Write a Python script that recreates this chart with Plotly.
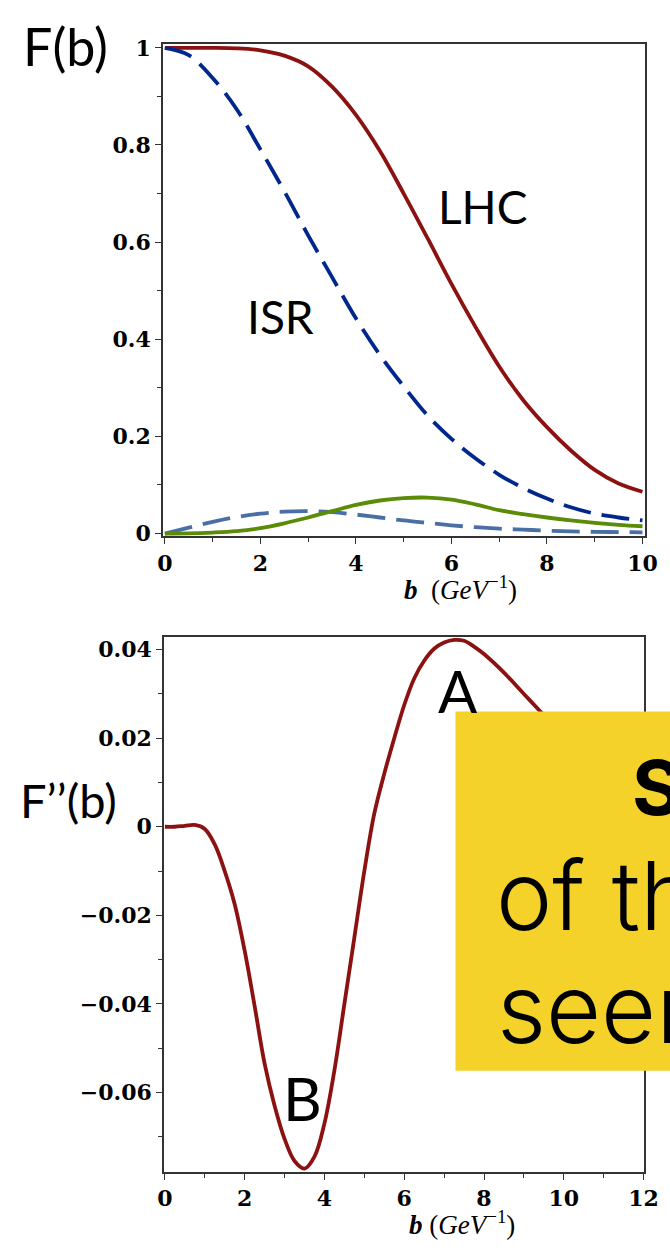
import plotly.graph_objects as go

# ---- F(b) profiles (upper panel), sampled every 0.5 in b ----
b_top = [0, 0.5, 1.0, 1.5, 2.0, 2.5, 3.0, 3.5, 4.0, 4.5, 5.0, 5.5, 6.0, 6.5, 7.0, 7.5, 8.0, 8.5, 9.0, 9.5, 10.0]
lhc_F = [1.000, 1.000, 1.000, 0.999, 0.995, 0.984, 0.962, 0.920, 0.862, 0.788, 0.700, 0.608, 0.514,
         0.426, 0.344, 0.275, 0.219, 0.171, 0.131, 0.103, 0.086]
isr_F = [1.000, 0.985, 0.938, 0.874, 0.791, 0.705, 0.614, 0.528, 0.443, 0.368, 0.303, 0.243, 0.195,
         0.155, 0.121, 0.094, 0.072, 0.054, 0.041, 0.033, 0.027]
green_F = [0.0, 0.0003, 0.002, 0.005, 0.011, 0.021, 0.033, 0.046, 0.059, 0.068, 0.073, 0.074, 0.070,
           0.060, 0.048, 0.040, 0.033, 0.027, 0.022, 0.018, 0.015]
steel_F = [0.0, 0.012, 0.024, 0.034, 0.041, 0.045, 0.046, 0.044, 0.039, 0.033, 0.027, 0.022, 0.017,
           0.013, 0.010, 0.008, 0.006, 0.0045, 0.0035, 0.003, 0.0025]

# ---- F''(b) (lower panel) ----
b_low = [0, 0.25, 0.5, 0.75, 1.0, 1.25, 1.5, 1.75, 2.0, 2.25, 2.5, 2.75, 3.0, 3.25, 3.5, 3.75, 4.0,
         4.25, 4.5, 4.75, 5.0, 5.25, 5.5, 5.75, 6.0, 6.25, 6.5, 6.75, 7.0, 7.25, 7.5, 7.75, 8.0,
         8.5, 9.0, 9.5, 10.0, 11.0, 12.0]
d2_F = [0.0, 0.0, 0.0002, 0.0004, -0.0005, -0.004, -0.0100, -0.0175, -0.0280, -0.0405, -0.0535,
        -0.0630, -0.0705, -0.0755, -0.0772, -0.0745, -0.0670, -0.0550, -0.0400, -0.0250, -0.0100,
        0.0030, 0.0120, 0.0200, 0.0275, 0.0335, 0.0375, 0.0402, 0.0416, 0.0422, 0.0420, 0.0407,
        0.0390, 0.0348, 0.0300, 0.0252, 0.0205, 0.0130, 0.0080]

W, H = 670, 1250


def px(x):
    return x / W


def py(y):
    return 1 - y / H


RED = "#8c1212"
NAVY = "#00288c"
GREEN = "#5a8c08"
STEEL = "#4a6fa5"
LW = 3.8
DASH = "28px,11px"

fig = go.Figure()
fig.add_trace(go.Scatter(x=b_top, y=lhc_F, mode="lines", line=dict(color=RED, width=LW, shape="spline"),
                         xaxis="x", yaxis="y"))
fig.add_trace(go.Scatter(x=b_top, y=isr_F, mode="lines",
                         line=dict(color=NAVY, width=LW, shape="spline", dash=DASH),
                         xaxis="x", yaxis="y"))
fig.add_trace(go.Scatter(x=b_top, y=steel_F, mode="lines",
                         line=dict(color=STEEL, width=LW, shape="spline", dash=DASH),
                         xaxis="x", yaxis="y"))
fig.add_trace(go.Scatter(x=b_top, y=green_F, mode="lines", line=dict(color=GREEN, width=LW, shape="spline"),
                         xaxis="x", yaxis="y"))
fig.add_trace(go.Scatter(x=b_low, y=d2_F, mode="lines", line=dict(color=RED, width=LW, shape="spline"),
                         xaxis="x2", yaxis="y2"))

tickfont = dict(family="DejaVu Serif", size=22, color="black", weight="bold")
axis_common = dict(showgrid=False, zeroline=False, showline=True, mirror=True, linecolor="#333",
                   linewidth=1.5, ticks="outside", ticklen=6, tickwidth=1.2, tickcolor="#333",
                   tickfont=tickfont, ticklabeloverflow="allow")
minor_common = dict(ticks="outside", ticklen=4, tickcolor="#333", tickwidth=1)

fig.update_layout(
    width=W, height=H, autosize=False, showlegend=False,
    margin=dict(l=0, r=0, t=0, b=0),
    paper_bgcolor="white", plot_bgcolor="white",
    xaxis=dict(domain=[px(161), px(659)], anchor="y", range=[-0.04, 10.06], tick0=0, dtick=2,
               minor=dict(dtick=1, **minor_common), **axis_common),
    yaxis=dict(domain=[py(535), py(35)], anchor="x", range=[-0.006, 1.007], tick0=0, dtick=0.2,
               minor=dict(dtick=0.1, **minor_common), **axis_common),
    xaxis2=dict(domain=[px(162), px(658)], anchor="y2", range=[-0.024, 12.02], tick0=0, dtick=2,
                minor=dict(dtick=1, **minor_common), **axis_common),
    yaxis2=dict(domain=[py(1181), py(637)], anchor="x2", range=[-0.078, 0.0429], tick0=0, dtick=0.02,
                minor=dict(dtick=0.01, **minor_common), **axis_common),
)

# Highlight box over the lower panel
fig.add_shape(type="rect", xref="paper", yref="paper", x0=px(463), x1=px(720), y0=py(1078), y1=py(713),
              fillcolor="#f5d22a", line=dict(width=0), layer="above")

sans = "Lato"


def label(text, x, y, size, family=sans, xanchor="center", weight="normal", color="black"):
    fig.add_annotation(text=text, x=px(x), y=py(y), xref="paper", yref="paper", showarrow=False,
                       xanchor=xanchor, yanchor="middle",
                       font=dict(family=family, size=size, color=color, weight=weight))


label("F(b)", 60, 37, 52)
label("LHC", 491, 200, 46)
label("ISR", 282, 311, 46)
label("F’’(b)", 63, 803, 47)
label("A", 466, 692, 58)
label("B", 305, 1106, 60)

label("<b><i>b</i></b>  (<i>GeV</i><sup>−1</sup>)", 468, 587, 27, family="Liberation Serif")
label("<b><i>b</i></b> (<i>GeV</i><sup>−1</sup>)", 470, 1233, 27, family="Liberation Serif")

label("Structure", 643, 790, 76, family="Inter", xanchor="left", weight="bold")
label("of the", 503, 900, 95, family="Inter", xanchor="left", weight=300)
label("seen", 504, 1015, 95, family="Inter", xanchor="left", weight=300)

fig.write_html("out.html")
